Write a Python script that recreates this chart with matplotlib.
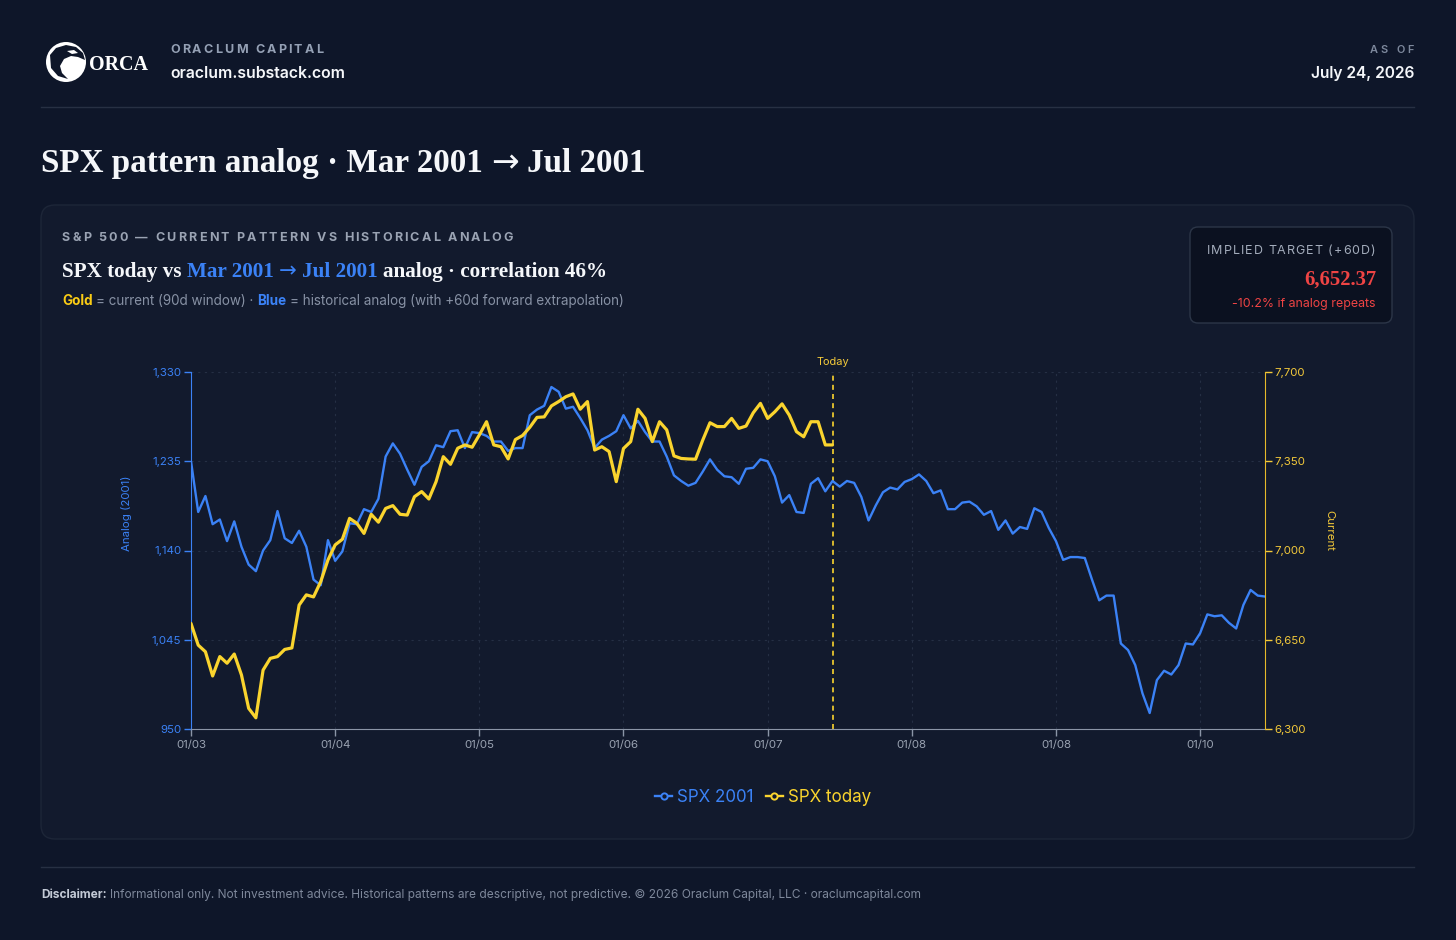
import matplotlib
matplotlib.use('Agg')
import matplotlib.pyplot as plt
from matplotlib.patches import FancyBboxPatch, Circle, Polygon
from matplotlib.lines import Line2D
from matplotlib.font_manager import FontProperties

# ---------------- data ----------------
analog_2001 = [
    1235, 1181, 1198, 1168, 1173, 1150, 1171, 1144, 1125, 1118,
    1140, 1151, 1182, 1153, 1148, 1161, 1144, 1109, 1103, 1151,
    1129, 1139, 1169, 1168, 1184, 1181, 1195, 1240, 1254, 1243,
    1226, 1210, 1229, 1235, 1252, 1250, 1267, 1268, 1249, 1266,
    1265, 1262, 1256, 1256, 1246, 1249, 1249, 1284, 1290, 1294,
    1314, 1309, 1291, 1293, 1281, 1268, 1249, 1258, 1262, 1267,
    1284, 1270, 1278, 1266, 1256, 1256, 1240, 1220, 1214, 1209,
    1212, 1224, 1237, 1226, 1219, 1218, 1211, 1227, 1228, 1237,
    1235, 1219, 1191, 1199, 1181, 1180, 1211, 1217, 1203, 1214,
    1208, 1214, 1212, 1197, 1172, 1188, 1202, 1207, 1205, 1213,
    1216, 1221, 1214, 1201, 1204, 1184, 1184, 1191, 1192, 1187,
    1178, 1182, 1162, 1172, 1158, 1165, 1163, 1185, 1181, 1164,
    1150, 1130, 1133, 1133, 1132, 1109, 1087, 1092, 1092, 1041,
    1034, 1018, 988, 967, 1002, 1012, 1008, 1018, 1041, 1040,
    1052, 1072, 1070, 1071, 1063, 1057, 1082, 1098, 1092, 1091,
]
spx_today = [
    6714, 6629, 6603, 6508, 6584, 6558, 6594, 6512, 6381, 6344,
    6531, 6577, 6584, 6612, 6618, 6786, 6826, 6818, 6878, 6963,
    7022, 7044, 7126, 7107, 7067, 7142, 7111, 7165, 7176, 7142,
    7139, 7211, 7231, 7202, 7270, 7368, 7338, 7401, 7414, 7405,
    7453, 7505, 7414, 7407, 7359, 7435, 7451, 7483, 7522, 7524,
    7567, 7584, 7603, 7614, 7554, 7584, 7394, 7407, 7388, 7270,
    7400, 7427, 7554, 7518, 7427, 7505, 7473, 7371, 7361, 7359,
    7358, 7433, 7501, 7486, 7486, 7518, 7479, 7488, 7540, 7577,
    7518, 7544, 7575, 7531, 7466, 7446, 7505, 7505, 7414, 7414,
]
x_tick_days = [0, 20, 40, 60, 80, 100, 120, 140]
x_tick_labels = ['01/03', '01/04', '01/05', '01/06', '01/07', '01/08', '01/08', '01/10']
analog_ticks = [950, 1045, 1140, 1235, 1330]
current_ticks = [6300, 6650, 7000, 7350, 7700]
today_day = 89
implied_target = "6,652.37"
implied_change = "-10.2% if analog repeats"

# ---------------- style ----------------
W, H = 1456, 940
BG = '#0e1629'
PANEL = '#121a2d'
PANEL_EDGE = '#1d2638'
BOX = '#0b1120'
BOX_EDGE = '#2c3648'
BLUE = '#3b82f6'
GOLD = '#fad42e'
GOLD_TXT = '#f3c93a'
GRAY = '#94a0b4'
GRAY2 = '#8791a4'
WHITE = '#f5f7fa'
RED = '#ef4444'
RULE = '#273043'
SANS = ['Inter', 'DejaVu Sans']
SERIF = ['Liberation Serif', 'DejaVu Serif']
ARROWF = ['DejaVu Sans']

fig = plt.figure(figsize=(W / 100, H / 100), dpi=100)
fig.patch.set_facecolor(BG)
bg = fig.add_axes([0, 0, 1, 1])
bg.set_xlim(0, W)
bg.set_ylim(H, 0)
bg.axis('off')
bg.set_zorder(0)
renderer = fig.canvas.get_renderer()


def fp(family, size_px, weight='normal'):
    return FontProperties(family=family, size=size_px * 0.72, weight=weight)


def ink_w(s, prop):
    t = bg.text(0, 0, s, fontproperties=prop)
    w = t.get_window_extent(renderer).width
    t.remove()
    return w


def adv(s, prop):
    if not s:
        return 0.0
    return ink_w('|' + s + '|', prop) - ink_w('||', prop)


def draw_runs(x, y, runs, size, target=None, ha='left', va='baseline', z=5):
    # runs: list of (text, color, family, weight)
    def total(sz):
        return sum(adv(r[0], fp(r[2], sz, r[3])) for r in runs)
    if target is not None:
        size = size * target / total(size)
    tw = total(size)
    if ha == 'right':
        x = x - tw
    elif ha == 'center':
        x = x - tw / 2
    for s, c, fam, wt in runs:
        prop = fp(fam, size, wt)
        lead = s[:len(s) - len(s.lstrip())]
        bg.text(x + adv(lead, prop), y, s.strip(), fontproperties=prop, color=c,
                ha='left', va=va, zorder=z)
        x += adv(s, prop)
    return size


def draw_spaced(x, y, s, size, color, family, weight, target, ha='left', z=5):
    prop = fp(family, size, weight)
    widths = [adv(ch, prop) for ch in s]
    gap = (target - sum(widths)) / (len(s) - 1)
    if ha == 'right':
        x = x - target
    for ch, w in zip(s, widths):
        if ch != ' ':
            bg.text(x, y, ch, fontproperties=prop, color=color, ha='left',
                    va='baseline', zorder=z)
        x += w + gap


# ---------------- header ----------------
bg.add_patch(Circle((66, 62), 20, facecolor='white', edgecolor='none', zorder=3))
bg.add_patch(Polygon([(50, 55), (56, 48), (66, 45), (76, 47), (83, 53), (85, 60),
                      (78, 57), (71, 56), (64, 59), (60, 66), (62, 73), (68, 79),
                      (58, 76), (51, 68)], closed=True, facecolor=BG, zorder=4))
bg.add_patch(Polygon([(67, 51), (74, 50), (78, 53), (72, 54)], closed=True,
                     facecolor='white', zorder=5))
draw_runs(89, 70, [('ORCA', 'white', SERIF, 'bold')], 22, target=59)

draw_spaced(170, 53, 'ORACLUM CAPITAL', 12.5, GRAY, SANS, 'bold', 153)
draw_runs(170, 78, [('oraclum.substack.com', WHITE, SANS, 'semibold')], 16, target=176)
draw_spaced(1414, 53, 'AS OF', 11, '#7d889c', SANS, 'semibold', 44, ha='right')
draw_runs(1414, 78, [('July 24, 2026', WHITE, SANS, 'semibold')], 16, target=104, ha='right')
bg.plot([41, 1414], [107, 107], color=RULE, lw=1, zorder=2)

# title
draw_runs(41, 172, [('SPX pattern analog · Mar 2001 ', WHITE, SERIF, 'bold'),
                    ('→', WHITE, ARROWF, 'normal'),
                    (' Jul 2001', WHITE, SERIF, 'bold')],
          34, target=604)

# ---------------- panel ----------------
bg.add_patch(FancyBboxPatch((41, 205), 1373, 634,
                            boxstyle='round,pad=0,rounding_size=14',
                            facecolor=PANEL, edgecolor=PANEL_EDGE, lw=1, zorder=1))

draw_spaced(62, 241, 'S&P 500 — CURRENT PATTERN VS HISTORICAL ANALOG', 12.5,
            '#9aa3b3', SANS, 'bold', 451)
draw_runs(62, 277, [('SPX today vs ', WHITE, SERIF, 'bold'),
                    ('Mar 2001 ', BLUE, SERIF, 'bold'),
                    ('→', BLUE, ARROWF, 'normal'),
                    (' Jul 2001', BLUE, SERIF, 'bold'),
                    (' analog · correlation 46%', WHITE, SERIF, 'bold')],
          23, target=547)
draw_runs(62, 305, [('Gold', '#facc15', SANS, 'bold'),
                    (' = current (90d window) · ', GRAY2, SANS, 'normal'),
                    ('Blue', BLUE, SANS, 'bold'),
                    (' = historical analog (with +60d forward extrapolation)', GRAY2, SANS, 'normal')],
          14, target=571)

# implied target box
bg.add_patch(FancyBboxPatch((1190, 227), 202, 96,
                            boxstyle='round,pad=0,rounding_size=8',
                            facecolor=BOX, edgecolor=BOX_EDGE, lw=1, zorder=2))
draw_spaced(1375, 254, 'IMPLIED TARGET (+60D)', 12.5, '#a3acbb', SANS, 'normal', 168, ha='right')
draw_runs(1376, 285, [(implied_target, RED, SERIF, 'bold')], 21, target=72, ha='right')
draw_runs(1376, 307, [(implied_change, RED, SANS, 'normal')], 13, target=143, ha='right')

# ---------------- chart ----------------
ax = fig.add_axes([191 / W, 1 - 729 / H, (1265 - 191) / W, (729 - 372) / H])
ax.set_zorder(3)
ax.set_facecolor('none')
days_analog = list(range(len(analog_2001)))
days_today = list(range(len(spx_today)))
ax.plot(days_analog, analog_2001, color=BLUE, lw=1.7, solid_joinstyle='round',
        solid_capstyle='round', zorder=3)
ax.set_xlim(0, 149)
ax.set_ylim(analog_ticks[0], analog_ticks[-1])
ax.set_yticks(analog_ticks)
ax.set_yticklabels([f'{v:,}' for v in analog_ticks])
ax.set_xticks(x_tick_days)
ax.set_xticklabels(x_tick_labels)
ax.grid(True, color='#252f44', lw=0.8, ls=(0, (2, 4)))
ax.set_axisbelow(True)
TICK_PT = 11.5 * 0.72
ax.tick_params(axis='y', colors=BLUE, length=5, width=1, pad=2, labelsize=TICK_PT)
ax.tick_params(axis='x', colors='#9aa3b2', length=5, width=1, pad=3, labelsize=TICK_PT)
for lab in ax.get_xticklabels() + ax.get_yticklabels():
    lab.set_fontfamily(SANS)
ax.tick_params(axis='x', color='#8b95a7')
ax.spines['top'].set_visible(False)
ax.spines['right'].set_visible(False)
ax.spines['left'].set_color(BLUE)
ax.spines['bottom'].set_color('#8b95a7')

ax.axvline(today_day, color=GOLD, lw=1.2, ls=(0, (3, 2.5)), zorder=2)
ax.annotate('Today', xy=(today_day, 1), xycoords=('data', 'axes fraction'),
            xytext=(0, 10), textcoords='offset pixels', ha='center', va='center',
            color=GOLD_TXT, fontfamily=SANS, fontsize=11 * 0.72, annotation_clip=False)

ax2 = ax.twinx()
ax2.plot(days_today, spx_today, color=GOLD, lw=2.3, solid_joinstyle='round',
         solid_capstyle='round', zorder=4)
ax2.set_ylim(current_ticks[0], current_ticks[-1])
ax2.set_yticks(current_ticks)
ax2.set_yticklabels([f'{v:,}' for v in current_ticks])
ax2.tick_params(axis='y', colors=GOLD_TXT, length=5, width=1, pad=2, labelsize=TICK_PT)
for lab in ax2.get_yticklabels():
    lab.set_fontfamily(SANS)
for s in ['top', 'left', 'bottom']:
    ax2.spines[s].set_visible(False)
ax2.spines['right'].set_color('#e6b92a')

bg.text(127, 513, 'Analog (2001)', rotation=90, ha='center', va='center',
        color=BLUE, fontproperties=fp(SANS, 11.5))
bg.text(1329, 531, 'Current', rotation=270, ha='center', va='center',
        color=GOLD_TXT, fontproperties=fp(SANS, 11.5))

# legend
handles = [Line2D([0], [0], color=BLUE, lw=1.7, marker='o', markersize=4.5,
                  markerfacecolor=PANEL, markeredgecolor=BLUE, markeredgewidth=1.4),
           Line2D([0], [0], color=GOLD, lw=1.7, marker='o', markersize=4.5,
                  markerfacecolor=PANEL, markeredgecolor=GOLD, markeredgewidth=1.4)]
leg = fig.legend(handles, ['SPX 2001', 'SPX today'], loc='center',
                 bbox_to_anchor=(763 / W, 1 - 797 / H), ncol=2, frameon=False,
                 prop=fp(SANS, 17), handlelength=1.0, handletextpad=0.3,
                 columnspacing=0.7, borderpad=0)
for t, c in zip(leg.get_texts(), [BLUE, GOLD]):
    t.set_color(c)

# ---------------- footer ----------------
bg.plot([41, 1414], [867, 867], color=RULE, lw=1, zorder=2)
draw_runs(41, 898, [('Disclaimer:', '#c3cad6', SANS, 'bold'),
                    (' Informational only. Not investment advice. Historical patterns are '
                     'descriptive, not predictive. © 2026 Oraclum Capital, LLC · oraclumcapital.com',
                     '#7e889b', SANS, 'normal')],
          12, target=877)

fig.savefig('out.png', dpi=100, facecolor=BG)
